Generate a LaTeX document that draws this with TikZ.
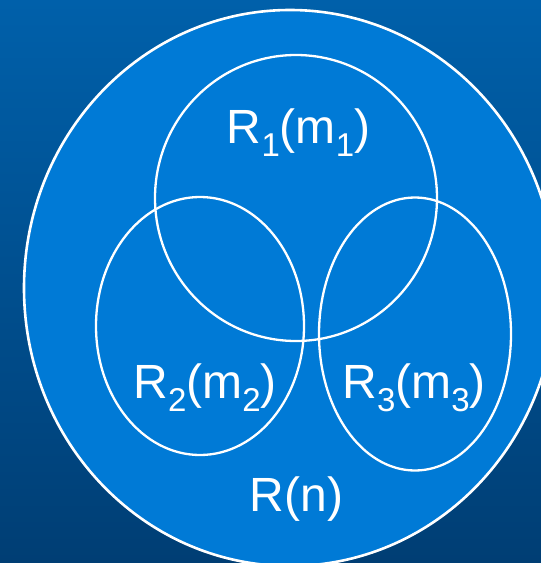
\documentclass[tikz,border=0pt]{standalone}
\usepackage{fontspec}
\setmainfont{Liberation Sans}
\definecolor{bgtop}{RGB}{0,96,170}
\definecolor{bgbot}{RGB}{0,62,116}
\definecolor{setfill}{RGB}{0,122,214}
\newcommand{\subsc}[1]{\raisebox{-0.26em}{\fontsize{33}{33}\selectfont #1}}
\tikzset{
  setline/.style={draw=white, line width=2.3pt},
  biglabel/.style={text=white, anchor=base, inner sep=0pt, font=\fontsize{48}{52}\selectfont}
}
\begin{document}
\begin{tikzpicture}[x=1pt,y=-1pt]
\useasboundingbox (0,0) rectangle (541,563);
\clip (0,0) rectangle (541,563);
\shade[top color=bgtop, bottom color=bgbot] (0,0) rectangle (541,563);
% universe R(n)
\draw[setline, line width=2.6pt, fill=setfill] (290,288) ellipse [x radius=266pt, y radius=278pt];
% R1
\draw[setline] (296,198) ellipse [x radius=141pt, y radius=143pt];
% R2
\draw[setline] (200,326) ellipse [x radius=104pt, y radius=129pt];
% R3
\draw[setline] (415,334) ellipse [x radius=96pt, y radius=136.5pt];
% labels
\node[biglabel] (l1) at (298.5,143.6) {R\subsc{1}(m\subsc{1})};
\node[biglabel] (l2) at (205,398.6) {R\subsc{2}(m\subsc{2})};
\node[biglabel] (l3) at (414,398.6) {R\subsc{3}(m\subsc{3})};
\node[biglabel] (ln) at (296.5,511.5) {R(n)};
\end{tikzpicture}
\end{document}
